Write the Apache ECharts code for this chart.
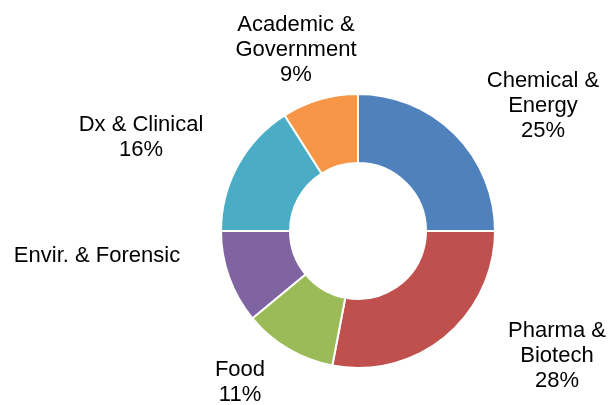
<!DOCTYPE html>
<html>
<head>
<meta charset="utf-8">
<script src="https://cdn.jsdelivr.net/npm/echarts@6/dist/echarts.min.js"></script>
<style>
  html, body { margin: 0; padding: 0; background: #ffffff; }
  #chart { width: 609px; height: 405px; }
</style>
</head>
<body>
<div id="chart"></div>
<script>
// Market segments, clockwise from 12 o'clock
const categories = ['Chemical &\nEnergy', 'Pharma &\nBiotech', 'Food', 'Envir. & Forensic', 'Dx & Clinical', 'Academic &\nGovernment'];
const shares = [25, 28, 11, 11, 16, 9];
const showShare = [true, true, true, false, true, true];
const colors = ['#4F81BD', '#C0504D', '#9BBB59', '#8064A2', '#4BACC6', '#F79646'];

// Donut geometry
const CX = 358, CY = 231;
const R_IN = 68, R_OUT = 137;

// Label block centres, as offsets from the donut centre
const labelOffsets = [
  [185, -125],
  [199, 125],
  [-118, 151],
  [-261, 25],
  [-217, -94],
  [-62, -181]
];

const chart = echarts.init(document.getElementById('chart'), null, { renderer: 'canvas' });

chart.setOption({
  animation: false,
  backgroundColor: '#ffffff',
  series: [{
    type: 'pie',
    center: [CX, CY],
    radius: [R_IN, R_OUT],
    startAngle: 90,
    clockwise: true,
    avoidLabelOverlap: false,
    itemStyle: { borderColor: '#ffffff', borderWidth: 2 },
    label: {
      show: true,
      position: 'outside',
      color: '#000000',
      fontFamily: 'Liberation Sans, Arial, Helvetica, sans-serif',
      fontSize: 22,
      lineHeight: 25,
      align: 'center',
      formatter: function (p) {
        return showShare[p.dataIndex] ? p.name + '\n' + p.value + '%' : p.name;
      }
    },
    labelLine: { show: false },
    labelLayout: function (p) {
      const o = labelOffsets[p.dataIndex];
      return { x: CX + o[0], y: CY + o[1], align: 'center', verticalAlign: 'middle' };
    },
    emphasis: { disabled: true },
    data: categories.map(function (name, i) {
      return { name: name, value: shares[i], itemStyle: { color: colors[i] } };
    })
  }]
});
</script>
</body>
</html>
